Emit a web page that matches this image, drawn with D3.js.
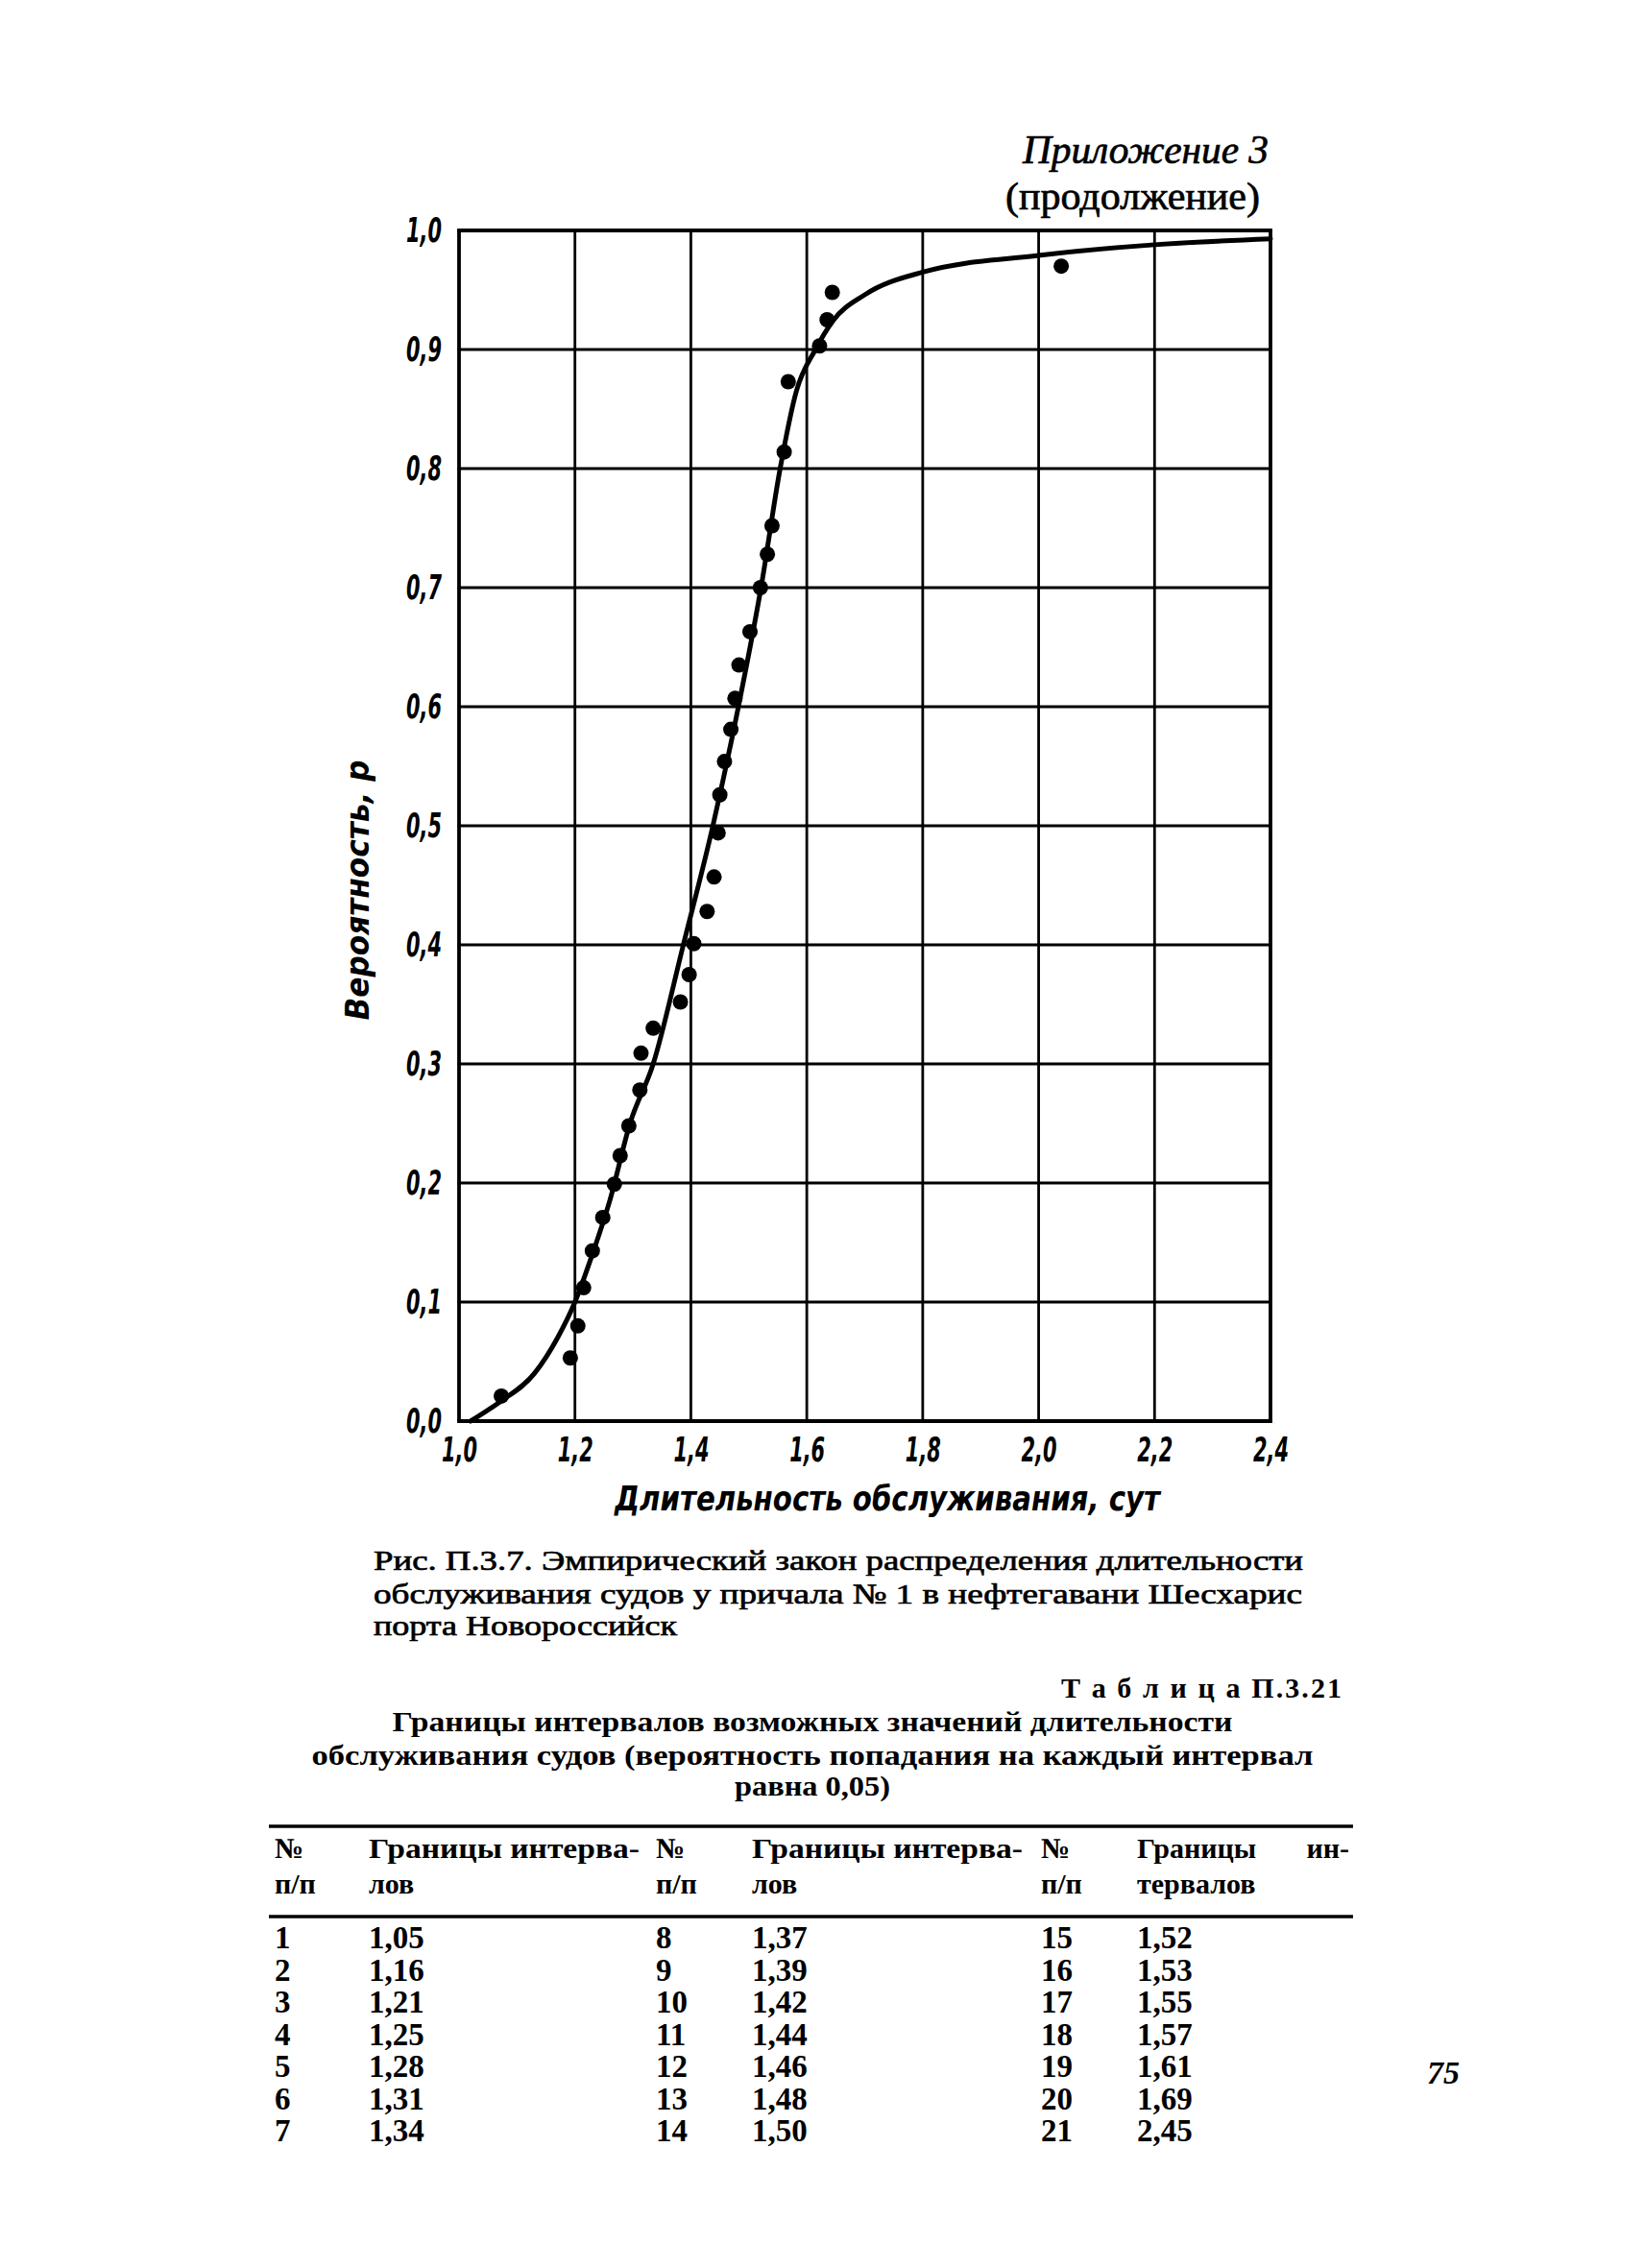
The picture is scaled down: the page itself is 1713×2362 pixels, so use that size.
<!DOCTYPE html>
<html lang="ru">
<head>
<meta charset="utf-8">
<script src="https://cdn.jsdelivr.net/npm/d3@7"></script>
<style>
  html, body { margin: 0; padding: 0; background: #fff; }
  svg { display: block; }
  .tick-lbl { font-family: "DejaVu Sans Condensed", "Liberation Sans Narrow", "Arial Narrow", sans-serif; font-style: italic; font-weight: bold; }
  .serif { font-family: "Liberation Serif", "Times New Roman", serif; }
  .ink { stroke: #000; stroke-width: 0.7px; }
</style>
</head>
<body>
<script>
// ---------- data ----------
const durTicks = [1.0, 1.2, 1.4, 1.6, 1.8, 2.0, 2.2, 2.4];
const probTicks = [0.0, 0.1, 0.2, 0.3, 0.4, 0.5, 0.6, 0.7, 0.8, 0.9, 1.0];

// empirical points (duration, probability)
const pointDur  = [1.073, 1.192, 1.205, 1.215, 1.230, 1.248, 1.268, 1.278, 1.293, 1.312, 1.314,
                   1.335, 1.382, 1.397, 1.405, 1.428, 1.440, 1.447, 1.450, 1.458, 1.469, 1.476,
                   1.483, 1.502, 1.520, 1.532, 1.540, 1.561, 1.568, 1.622, 1.635, 1.644, 2.039];
const pointProb = [0.021, 0.053, 0.080, 0.112, 0.143, 0.171, 0.199, 0.223, 0.248, 0.278, 0.309,
                   0.330, 0.352, 0.375, 0.401, 0.428, 0.457, 0.494, 0.526, 0.554, 0.581, 0.607,
                   0.635, 0.663, 0.700, 0.728, 0.752, 0.814, 0.873, 0.903, 0.925, 0.948, 0.970];

// smooth theoretical curve
const curveDur  = [1.02, 1.07, 1.13, 1.17, 1.20, 1.23, 1.26, 1.295, 1.335, 1.387, 1.438, 1.482,
                   1.521, 1.554, 1.582, 1.615, 1.645, 1.70, 1.80, 2.00, 2.20, 2.40];
const curveProb = [0.000, 0.016, 0.040, 0.070, 0.100, 0.140, 0.185, 0.250, 0.300, 0.400, 0.500, 0.600,
                   0.700, 0.800, 0.865, 0.900, 0.924, 0.946, 0.965, 0.979, 0.988, 0.993];

// table П.3.21
const intervalNo = d3.range(1, 22);
const intervalBounds = [1.05, 1.16, 1.21, 1.25, 1.28, 1.31, 1.34,
                        1.37, 1.39, 1.42, 1.44, 1.46, 1.48, 1.50,
                        1.52, 1.53, 1.55, 1.57, 1.61, 1.69, 2.45];

const xTitle = "Длительность обслуживания, сут";
const yTitle = "Вероятность, р";
const appendixLines = ["Приложение 3", "(продолжение)"];
const captionLines = [
  "Рис. П.3.7. Эмпирический закон распределения длительности",
  "обслуживания судов у причала № 1 в нефтегавани Шесхарис",
  "порта Новороссийск"
];
const tableLabel = "Т а б л и ц а  П.3.21";
const tableTitleLines = [
  "Границы интервалов возможных значений длительности",
  "обслуживания судов (вероятность попадания на каждый интервал",
  "равна 0,05)"
];
const pageNumber = "75";

// ---------- drawing ----------
const W = 1713, H = 2362;
const svg = d3.select("body").append("svg").attr("width", W).attr("height", H);
svg.append("rect").attr("width", W).attr("height", H).attr("fill", "#fff");

const plot = { left: 478, right: 1323, top: 240, bottom: 1480 };
const x = d3.scaleLinear().domain([1.0, 2.4]).range([plot.left, plot.right]);
const y = d3.scaleLinear().domain([0, 1]).range([plot.bottom, plot.top]);
const comma = v => d3.format(".1f")(v).replace(".", ",");

// grid
const g = svg.append("g");
g.selectAll(".vg").data(durTicks).join("line")
  .attr("x1", d => x(d)).attr("x2", d => x(d))
  .attr("y1", plot.top).attr("y2", plot.bottom)
  .attr("stroke", "#000").attr("stroke-width", (d, i) => (i === 0 || i === durTicks.length - 1) ? 3.8 : 2.8);
g.selectAll(".hg").data(probTicks).join("line")
  .attr("x1", plot.left).attr("x2", plot.right)
  .attr("y1", d => y(d)).attr("y2", d => y(d))
  .attr("stroke", "#000").attr("stroke-width", (d, i) => (i === 0 || i === probTicks.length - 1) ? 3.8 : 2.8)
  .attr("stroke-linecap", "square");

// axes (labels via d3 axes, domain/ticks hidden)
const xAxis = svg.append("g").attr("transform", `translate(0,${plot.bottom})`)
  .call(d3.axisBottom(x).tickValues(durTicks).tickFormat(comma).tickSize(0).tickPadding(17));
const yAxis = svg.append("g").attr("transform", `translate(${plot.left},0)`)
  .call(d3.axisLeft(y).tickValues(probTicks).tickFormat(comma).tickSize(0).tickPadding(18));
[xAxis, yAxis].forEach(a => {
  a.select(".domain").remove();
  a.selectAll("text").attr("class", "tick-lbl").attr("font-size", 35).attr("fill", "#000")
    .attr("textLength", 37).attr("lengthAdjust", "spacingAndGlyphs");
});

// curve
const curveData = curveDur.map((d, i) => [d, curveProb[i]]);
svg.append("path").datum(curveData)
  .attr("d", d3.line().x(d => x(d[0])).y(d => y(d[1])).curve(d3.curveMonotoneX))
  .attr("fill", "none").attr("stroke", "#000").attr("stroke-width", 5).attr("stroke-linecap", "round");

// points
const pts = pointDur.map((d, i) => [d, pointProb[i]]);
svg.selectAll(".pt").data(pts).join("circle")
  .attr("cx", d => x(d[0])).attr("cy", d => y(d[1])).attr("r", 8).attr("fill", "#000");

// axis titles
svg.append("text").attr("class", "tick-lbl")
  .attr("x", 924).attr("y", 1573).attr("text-anchor", "middle")
  .attr("font-size", 36).attr("textLength", 568).attr("lengthAdjust", "spacingAndGlyphs")
  .text(xTitle);
svg.append("text").attr("class", "tick-lbl")
  .attr("transform", "translate(384,927) rotate(-90)").attr("text-anchor", "middle")
  .attr("font-size", 34).attr("textLength", 271).attr("lengthAdjust", "spacingAndGlyphs")
  .text(yTitle);

// appendix header
svg.append("text").attr("class", "serif ink").attr("font-style", "italic")
  .attr("x", 1321).attr("y", 170).attr("text-anchor", "end").attr("font-size", 42)
  .attr("textLength", 256).attr("lengthAdjust", "spacingAndGlyphs").text(appendixLines[0]);
svg.append("text").attr("class", "serif ink")
  .attr("x", 1312).attr("y", 218).attr("text-anchor", "end").attr("font-size", 40)
  .attr("textLength", 265).attr("lengthAdjust", "spacingAndGlyphs").text(appendixLines[1]);

// caption
const capY = [1635, 1670, 1703];
const capLen = [968, 967, 316];
captionLines.forEach((t, i) => {
  svg.append("text").attr("class", "serif ink").attr("x", 389).attr("y", capY[i])
    .attr("font-size", 30).attr("textLength", capLen[i]).attr("lengthAdjust", "spacingAndGlyphs").text(t);
});

// table label & title
svg.append("text").attr("class", "serif").attr("font-weight", "bold")
  .attr("x", 1397).attr("y", 1768).attr("text-anchor", "end").attr("font-size", 30)
  .attr("textLength", 292).attr("lengthAdjust", "spacing").text(tableLabel);
const ttY = [1803, 1838, 1870];
const ttLen = [875, 1043, 162];
tableTitleLines.forEach((t, i) => {
  svg.append("text").attr("class", "serif").attr("font-weight", "bold")
    .attr("x", 846).attr("y", ttY[i]).attr("text-anchor", "middle").attr("font-size", 30)
    .attr("textLength", ttLen[i]).attr("lengthAdjust", "spacingAndGlyphs").text(t);
});

// table rules
[{ y: 1902, w: 3.5 }, { y: 1996, w: 3.5 }].forEach(r => {
  svg.append("line").attr("x1", 280).attr("x2", 1409).attr("y1", r.y).attr("y2", r.y)
    .attr("stroke", "#000").attr("stroke-width", r.w);
});

// table header
const colNo = [286, 683, 1084];
const colVal = [384, 783, 1184];
const hdr1 = ["Границы интерва-", "Границы интерва-", "Границы"];
const hdr2 = ["лов", "лов", "тервалов"];
colNo.forEach((cx, i) => {
  svg.append("text").attr("class", "serif").attr("font-weight", "bold").attr("font-size", 30)
    .attr("x", cx).attr("y", 1935).text("№");
  svg.append("text").attr("class", "serif").attr("font-weight", "bold").attr("font-size", 30)
    .attr("x", cx).attr("y", 1972).text("п/п");
  const h = svg.append("text").attr("class", "serif").attr("font-weight", "bold").attr("font-size", 30)
    .attr("x", colVal[i]).attr("y", 1935).text(hdr1[i]);
  if (i < 2) h.attr("textLength", 282).attr("lengthAdjust", "spacingAndGlyphs");
  svg.append("text").attr("class", "serif").attr("font-weight", "bold").attr("font-size", 30)
    .attr("x", colVal[i]).attr("y", 1972).text(hdr2[i]);
});
svg.append("text").attr("class", "serif").attr("font-weight", "bold").attr("font-size", 30)
  .attr("x", 1405).attr("y", 1935).attr("text-anchor", "end").text("ин-");

// table body
const rowY = d3.scaleLinear().domain([0, 6]).range([2029, 2230]);
const fmt2 = v => d3.format(".2f")(v).replace(".", ",");
intervalNo.forEach((n, k) => {
  const col = Math.floor(k / 7), row = k % 7;
  svg.append("text").attr("class", "serif").attr("font-weight", "bold").attr("font-size", 33)
    .attr("x", colNo[col]).attr("y", rowY(row)).text(n);
  svg.append("text").attr("class", "serif").attr("font-weight", "bold").attr("font-size", 33)
    .attr("x", colVal[col]).attr("y", rowY(row)).text(fmt2(intervalBounds[k]));
});

// page number
svg.append("text").attr("class", "serif").attr("font-weight", "bold").attr("font-style", "italic")
  .attr("x", 1486).attr("y", 2170).attr("font-size", 34).text(pageNumber);
</script>
</body>
</html>
